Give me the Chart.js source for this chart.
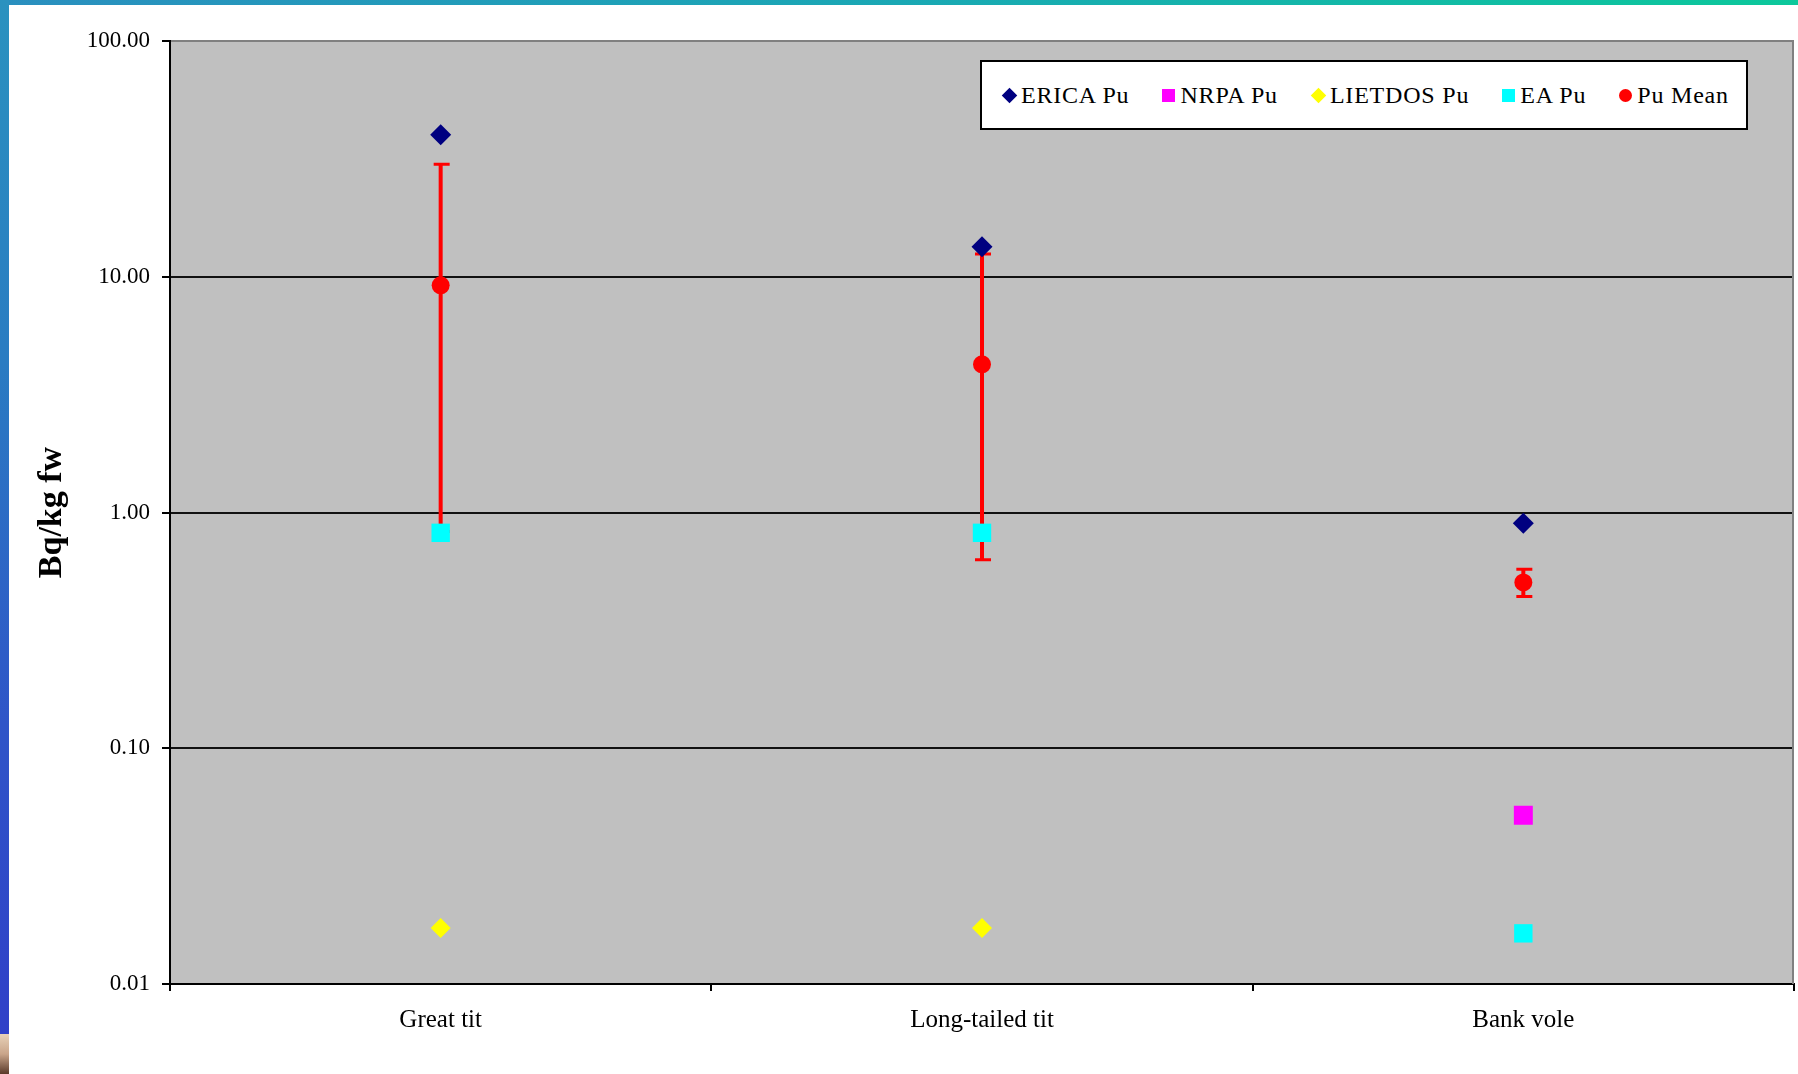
<!DOCTYPE html>
<html>
<head>
<meta charset="utf-8">
<script src="https://cdn.jsdelivr.net/npm/chart.js@4.4.1/dist/chart.umd.min.js"></script>
<style>
  html, body { margin: 0; padding: 0; background: #fff; overflow: hidden; }
  #wrap { position: relative; width: 1798px; height: 1074px; }
  #puChart { position: absolute; left: 0; top: 0; }
  .strip-top { position: absolute; left: 0; top: 0; width: 1798px; height: 5px;
    background: linear-gradient(to right, #2a8fbf, #1aa8b4 50%, #0cc89b); }
  .strip-left { position: absolute; left: 0; top: 0; width: 9px; height: 1034px;
    background: linear-gradient(to bottom, #2a92bf, #2a7cc2 35%, #2f55c8 70%, #3040c8); }
  .strip-photo { position: absolute; left: 0; top: 1034px; width: 9px; height: 40px;
    background: linear-gradient(to bottom, #e8d2b8, #c9a58a 50%, #5a3a2a); }
  #legend { position: absolute; left: 980px; top: 60px; width: 768px; height: 70px;
    box-sizing: border-box; border: 2px solid #000; background: #fff;
    display: flex; align-items: center; padding-left: 20px;
    font-family: "Liberation Serif", "Times New Roman", serif; font-size: 24px;
    letter-spacing: 0.8px; color: #000; }
  .item { display: flex; align-items: center; margin-right: 33px; white-space: nowrap; }
  .mk { width: 13px; height: 13px; margin-right: 5px; flex: none; }
  .mk.diamond { transform: rotate(45deg); width: 11px; height: 11px; margin-left: 2px; margin-right: 6px; }
  .mk.circle { border-radius: 50%; }
</style>
</head>
<body>
<div id="wrap">
  <canvas id="puChart" width="1798" height="1074"></canvas>
  <div class="strip-top"></div>
  <div class="strip-left"></div>
  <div class="strip-photo"></div>
  <div id="legend"></div>
</div>
<script>
// categories and values (Bq/kg fw)
const categories = ["Great tit", "Long-tailed tit", "Bank vole"];
const ericaPu = [40, 13.4, 0.9];
const nrpaPu = [null, null, 0.052];
const lietdosPu = [0.0173, 0.0173, null];
const eaPu = [0.82, 0.82, 0.0164];
const puMean = [9.2, 4.25, 0.505];
const puMeanLow = [0.83, 0.63, 0.44];
const puMeanHigh = [30, 12.5, 0.575];
const yTicks = [0.01, 0.1, 1, 10, 100];

const serif = '"Liberation Serif", "Times New Roman", serif';

// grey plot area plus the grey right border
const plotArea = {
  id: "plotArea",
  beforeDraw(chart) {
    const { ctx, chartArea: a } = chart;
    ctx.save();
    ctx.fillStyle = "#c0c0c0";
    ctx.fillRect(a.left, a.top, a.right - a.left, a.bottom - a.top);
    ctx.restore();
  },
  beforeDatasetsDraw(chart) {
    const { ctx, chartArea: a } = chart;
    ctx.save();
    ctx.strokeStyle = "#808080";
    ctx.lineWidth = 2;
    ctx.beginPath();
    ctx.moveTo(a.right - 1, a.top);
    ctx.lineTo(a.right - 1, a.bottom);
    ctx.stroke();
    ctx.restore();
  },
};

// min/max bars for the Pu mean
const errorBars = {
  id: "errorBars",
  beforeDatasetsDraw(chart) {
    const { ctx } = chart;
    const x = chart.scales.x;
    const y = chart.scales.y;
    ctx.save();
    ctx.strokeStyle = "#ff0000";
    puMean.forEach((m, i) => {
      if (m == null) return;
      const px = x.getPixelForValue(i);
      const yLo = y.getPixelForValue(puMeanLow[i]);
      const yHi = y.getPixelForValue(puMeanHigh[i]);
      ctx.lineWidth = 4;
      ctx.beginPath();
      ctx.moveTo(px, yLo);
      ctx.lineTo(px, yHi);
      ctx.stroke();
      ctx.lineWidth = 3;
      ctx.beginPath();
      ctx.moveTo(px - 7, yLo);
      ctx.lineTo(px + 9, yLo);
      ctx.moveTo(px - 7, yHi);
      ctx.lineTo(px + 9, yHi);
      ctx.stroke();
    });
    ctx.restore();
  },
};

const series = [
  { label: "ERICA Pu", data: ericaPu, color: "#000080", style: "rectRot", radius: 10.5, mk: "diamond" },
  { label: "NRPA Pu", data: nrpaPu, color: "#ff00ff", style: "rect", radius: 13.4, mk: "square" },
  { label: "LIETDOS Pu", data: lietdosPu, color: "#ffff00", style: "rectRot", radius: 10, mk: "diamond" },
  { label: "EA Pu", data: eaPu, color: "#00ffff", style: "rect", radius: 13, mk: "square" },
  { label: "Pu Mean", data: puMean, color: "#ff0000", style: "circle", radius: 9, mk: "circle" },
];

new Chart(document.getElementById("puChart"), {
  type: "line",
  data: {
    labels: categories,
    datasets: series.map((s) => ({
      label: s.label,
      data: s.data,
      showLine: false,
      pointStyle: s.style,
      pointRadius: s.radius,
      pointBackgroundColor: s.color,
      pointBorderColor: s.color,
      pointBorderWidth: 0,
      backgroundColor: s.color,
      borderColor: s.color,
    })),
  },
  options: {
    responsive: false,
    animation: false,
    layout: { autoPadding: false, padding: { left: 0, top: 41, right: 4, bottom: 0 } },
    plugins: {
      legend: { display: false },
      tooltip: { enabled: false },
    },
    scales: {
      x: {
        type: "category",
        offset: true,
        afterFit: (scale) => {
          scale.height = 90;
          scale.paddingLeft = 0;
          scale.paddingRight = 0;
        },
        grid: {
          offset: true,
          drawOnChartArea: false,
          drawTicks: true,
          tickLength: 7,
          color: "#000",
          lineWidth: 2,
        },
        border: { display: true, color: "#000", width: 2 },
        ticks: {
          color: "#000",
          padding: 14,
          maxRotation: 0,
          font: { family: serif, size: 25 },
        },
      },
      y: {
        type: "logarithmic",
        min: 0.01,
        max: 100,
        afterFit: (scale) => { scale.width = 170; },
        afterBuildTicks: (scale) => {
          scale.ticks = yTicks.map((v) => ({ value: v }));
        },
        grid: {
          color: (c) => (c.tick && c.tick.value === 100 ? "#808080" : "#111"),
          lineWidth: 2,
          tickLength: 8,
          tickColor: "#000",
        },
        border: { display: true, color: "#000", width: 2 },
        ticks: {
          color: "#000",
          padding: 12,
          font: { family: serif, size: 23 },
          callback: (v) => Number(v).toFixed(2),
        },
        title: {
          display: true,
          text: "Bq/kg fw",
          color: "#000",
          padding: { top: 32, bottom: 0 },
          font: { family: serif, size: 34, weight: "bold" },
        },
      },
    },
  },
  plugins: [plotArea, errorBars],
});

// legend box inside the plot area
const legend = document.getElementById("legend");
series.forEach((s) => {
  const item = document.createElement("div");
  item.className = "item";
  const mk = document.createElement("span");
  mk.className = "mk " + s.mk;
  mk.style.background = s.color;
  const txt = document.createElement("span");
  txt.textContent = s.label;
  item.appendChild(mk);
  item.appendChild(txt);
  legend.appendChild(item);
});
</script>
</body>
</html>
